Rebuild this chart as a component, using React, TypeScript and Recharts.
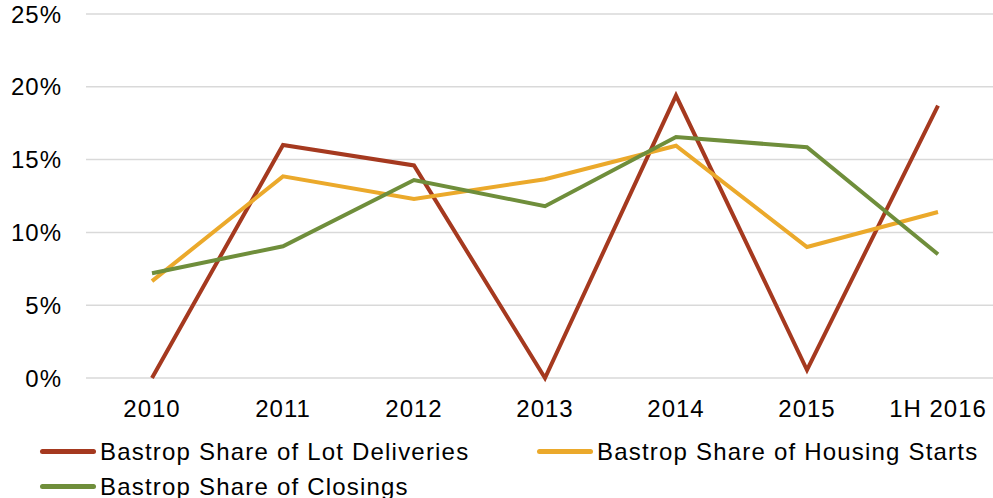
import { CartesianGrid, Line, LineChart, XAxis, YAxis } from "recharts"

const years = ["2010", "2011", "2012", "2013", "2014", "2015", "1H 2016"]
const lotDeliveries = [0, 16.0, 14.6, 0, 19.4, 0.55, 18.7]
const housingStarts = [6.65, 13.85, 12.3, 13.65, 15.95, 9.0, 11.4]
const closings = [7.2, 9.05, 13.6, 11.8, 16.55, 15.85, 8.5]
const yTicks = [0, 5, 10, 15, 20, 25]

const series = [
  { key: "lot", name: "Bastrop Share of Lot Deliveries", color: "#A5391F", values: lotDeliveries },
  { key: "starts", name: "Bastrop Share of Housing Starts", color: "#EBA92B", values: housingStarts },
  { key: "closings", name: "Bastrop Share of Closings", color: "#6F8E3B", values: closings },
]

const data = years.map((year, i) => ({
  year,
  lot: lotDeliveries[i],
  starts: housingStarts[i],
  closings: closings[i],
}))

const font = "'Liberation Sans', Arial, sans-serif"
const tickStyle = { fill: "#000", fontSize: 24, fontFamily: font, letterSpacing: 1 }

function LegendRow({ name, color }: { name: string; color: string }) {
  return (
    <div style={{ display: "flex", alignItems: "center", whiteSpace: "nowrap", height: 35 }}>
      <div style={{ width: 56, height: 5, borderRadius: 3, background: color, marginRight: 4 }} />
      <span>{name}</span>
    </div>
  )
}

export default function App() {
  return (
    <div
      style={{
        position: "absolute",
        left: 0,
        top: 0,
        width: 993,
        height: 498,
        overflow: "hidden",
        fontFamily: font,
        background: "#fff",
      }}
    >
      <LineChart
        width={1010}
        height={498}
        data={data}
        margin={{ top: 14, right: 0, left: 0, bottom: 80 }}
      >
        <CartesianGrid vertical={false} stroke="#D9D9D9" strokeWidth={1.5} />
        <XAxis
          dataKey="year"
          axisLine={false}
          tickLine={false}
          height={40}
          tickSize={0}
          tickMargin={22}
          interval={0}
          padding={{ left: 66, right: 72 }}
          tick={tickStyle}
        />
        <YAxis
          domain={[0, 25]}
          ticks={yTicks}
          axisLine={false}
          tickLine={false}
          width={86}
          tickSize={0}
          tickMargin={24}
          tickFormatter={(v) => `${v}%`}
          tick={tickStyle}
        />
        {series.map((s) => (
          <Line
            key={s.key}
            dataKey={s.key}
            name={s.name}
            stroke={s.color}
            strokeWidth={4}
            dot={false}
            isAnimationActive={false}
          />
        ))}
      </LineChart>
      <div
        style={{
          position: "absolute",
          left: 40,
          top: 434,
          fontSize: 24,
          letterSpacing: 1.2,
          color: "#000",
        }}
      >
        <div style={{ display: "flex" }}>
          <div style={{ width: 497 }}>
            <LegendRow name={series[0].name} color={series[0].color} />
          </div>
          <LegendRow name={series[1].name} color={series[1].color} />
        </div>
        <LegendRow name={series[2].name} color={series[2].color} />
      </div>
    </div>
  )
}
